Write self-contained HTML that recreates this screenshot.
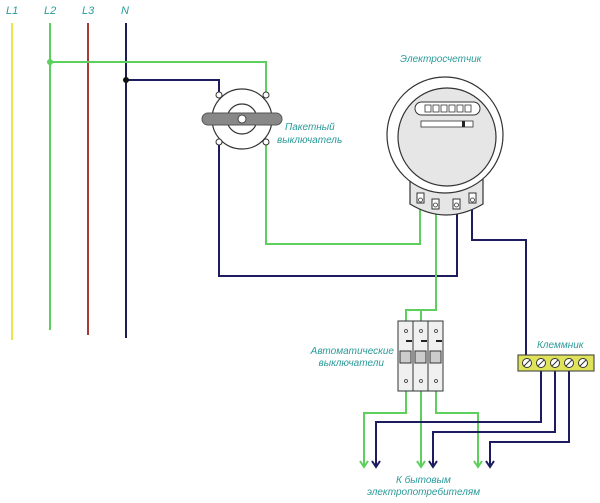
<!DOCTYPE html>
<html><head><meta charset="utf-8"><style>
html,body{margin:0;padding:0;background:#fff}
svg text{font-family:"Liberation Sans",sans-serif;font-style:italic;fill:#2a9a9a}
</style></head><body>
<svg width="600" height="498" viewBox="0 0 600 498" xmlns="http://www.w3.org/2000/svg">
<g font-size="11">
<text x="6" y="14">L1</text><text x="44" y="14">L2</text><text x="82" y="14">L3</text><text x="121" y="14">N</text>
</g>
<g stroke-width="2" fill="none">
<line x1="12" y1="23" x2="12" y2="340" stroke="#eae64a"/>
<line x1="50" y1="23" x2="50" y2="330" stroke="#5ccf5c"/>
<line x1="88" y1="23" x2="88" y2="335" stroke="#a83a3a"/>
<line x1="126" y1="23" x2="126" y2="338" stroke="#1c1c4e"/>
<polyline points="50,62 266,62 266,95" stroke="#5ccf5c"/>
<polyline points="126,80 219,80 219,95" stroke="#1c1c5e"/>
<polyline points="266,142 266,244 420,244 420,203" stroke="#5ccf5c"/>
<polyline points="219,142 219,276 457,276 457,205" stroke="#1c1c5e"/>
<polyline points="472,203 472,240 526,240 526,360" stroke="#1c1c5e"/>
<polyline points="436,207 436,310 406,310 406,321" stroke="#5ccf5c"/>
<line x1="421" y1="310" x2="421" y2="321" stroke="#5ccf5c"/>
<polyline points="406,391 406,413 364,413 364,466" stroke="#5ccf5c"/>
<line x1="421" y1="391" x2="421" y2="466" stroke="#5ccf5c"/>
<polyline points="436,391 436,413 478,413 478,466" stroke="#5ccf5c"/>
<polyline points="541,362 541,422 376,422 376,466" stroke="#1c1c5e"/>
<polyline points="555,362 555,432 433,432 433,466" stroke="#1c1c5e"/>
<polyline points="569,362 569,442 490,442 490,466" stroke="#1c1c5e"/>
<polyline points="360,461 364,467 368,461" stroke="#5ccf5c"/>
<polyline points="417,461 421,467 425,461" stroke="#5ccf5c"/>
<polyline points="474,461 478,467 482,461" stroke="#5ccf5c"/>
<polyline points="372,461 376,467 380,461" stroke="#1c1c5e"/>
<polyline points="429,461 433,467 437,461" stroke="#1c1c5e"/>
<polyline points="486,461 490,467 494,461" stroke="#1c1c5e"/>
</g>
<circle cx="50" cy="62" r="3" fill="#5ccf5c"/>
<circle cx="126" cy="80" r="3" fill="#111"/>
<circle cx="242" cy="119" r="30" fill="#fff" stroke="#333" stroke-width="1.2"/>
<circle cx="242" cy="119" r="15" fill="#fff" stroke="#333" stroke-width="1.2"/>
<rect x="202" y="113" width="80" height="12" rx="6" fill="#888" stroke="#555"/>
<circle cx="242" cy="119" r="4" fill="#fff" stroke="#444"/>
<g fill="#fff" stroke="#333"><circle cx="219" cy="95" r="3"/><circle cx="266" cy="95" r="3"/><circle cx="219" cy="142" r="3"/><circle cx="266" cy="142" r="3"/></g>
<text x="285" y="130" font-size="10">Пакетный</text>
<text x="277" y="143" font-size="10">выключатель</text>
<text x="400" y="62" font-size="10">Электросчетчик</text>
<path d="M410,175 L410,204 Q446,226 483,204 L483,175 Z" fill="#e6e6e6" stroke="#333" stroke-width="1.2"/>
<circle cx="445" cy="135" r="58" fill="#fff" stroke="#333" stroke-width="1.2"/>
<circle cx="447" cy="137" r="49" fill="#e6e6e6" stroke="#333" stroke-width="1.2"/>
<rect x="415" y="102" width="65" height="13" rx="6.5" fill="#fff" stroke="#333"/>
<g fill="#fff" stroke="#333" stroke-width="0.8"><rect x="425" y="105" width="6" height="7"/><rect x="433" y="105" width="6" height="7"/><rect x="441" y="105" width="6" height="7"/><rect x="449" y="105" width="6" height="7"/><rect x="457" y="105" width="6" height="7"/><rect x="465" y="105" width="6" height="7"/></g>
<rect x="421" y="121" width="52" height="6" fill="#fff" stroke="#333" stroke-width="0.8"/>
<rect x="462" y="121" width="3" height="6" fill="#222"/>
<g fill="#fff" stroke="#333"><rect x="417" y="193" width="7" height="10"/><rect x="432" y="199" width="7" height="10"/><rect x="453" y="199" width="7" height="10"/><rect x="469" y="193" width="7" height="10"/></g>
<g fill="none" stroke="#333" stroke-width="0.8"><circle cx="420.5" cy="200" r="2"/><circle cx="435.5" cy="205" r="2"/><circle cx="456.5" cy="205" r="2"/><circle cx="472.5" cy="200" r="2"/></g>
<g stroke="#333" fill="#f0f0f0">
<rect x="398" y="321" width="15" height="70"/><rect x="413" y="321" width="15" height="70"/><rect x="428" y="321" width="15" height="70"/>
<rect x="400" y="351" width="11" height="12" fill="#ccc"/><rect x="415" y="351" width="11" height="12" fill="#ccc"/><rect x="430" y="351" width="11" height="12" fill="#ccc"/>
</g>
<g fill="#222"><rect x="406" y="340" width="6" height="2"/><rect x="421" y="340" width="6" height="2"/><rect x="436" y="340" width="6" height="2"/></g>
<g fill="none" stroke="#333" stroke-width="0.8"><circle cx="406" cy="331" r="1.5"/><circle cx="421" cy="331" r="1.5"/><circle cx="436" cy="331" r="1.5"/><circle cx="406" cy="381" r="1.5"/><circle cx="421" cy="381" r="1.5"/><circle cx="436" cy="381" r="1.5"/></g>
<text x="394" y="354" font-size="10" text-anchor="end">Автоматические</text>
<text x="384" y="366" font-size="10" text-anchor="end">выключатели</text>
<text x="537" y="348" font-size="10">Клеммник</text>
<rect x="518" y="355" width="76" height="16" fill="#dfe35a" stroke="#333"/>
<g fill="#fff" stroke="#333"><circle cx="527" cy="363" r="4.5"/><circle cx="541" cy="363" r="4.5"/><circle cx="555" cy="363" r="4.5"/><circle cx="569" cy="363" r="4.5"/><circle cx="583" cy="363" r="4.5"/></g>
<g stroke="#333"><line x1="524" y1="366" x2="530" y2="360"/><line x1="538" y1="366" x2="544" y2="360"/><line x1="552" y1="366" x2="558" y2="360"/><line x1="566" y1="366" x2="572" y2="360"/><line x1="580" y1="366" x2="586" y2="360"/></g>
<text x="396" y="483" font-size="10">К  бытовым</text>
<text x="367" y="495" font-size="10">электропотребителям</text>
</svg>
</body></html>
